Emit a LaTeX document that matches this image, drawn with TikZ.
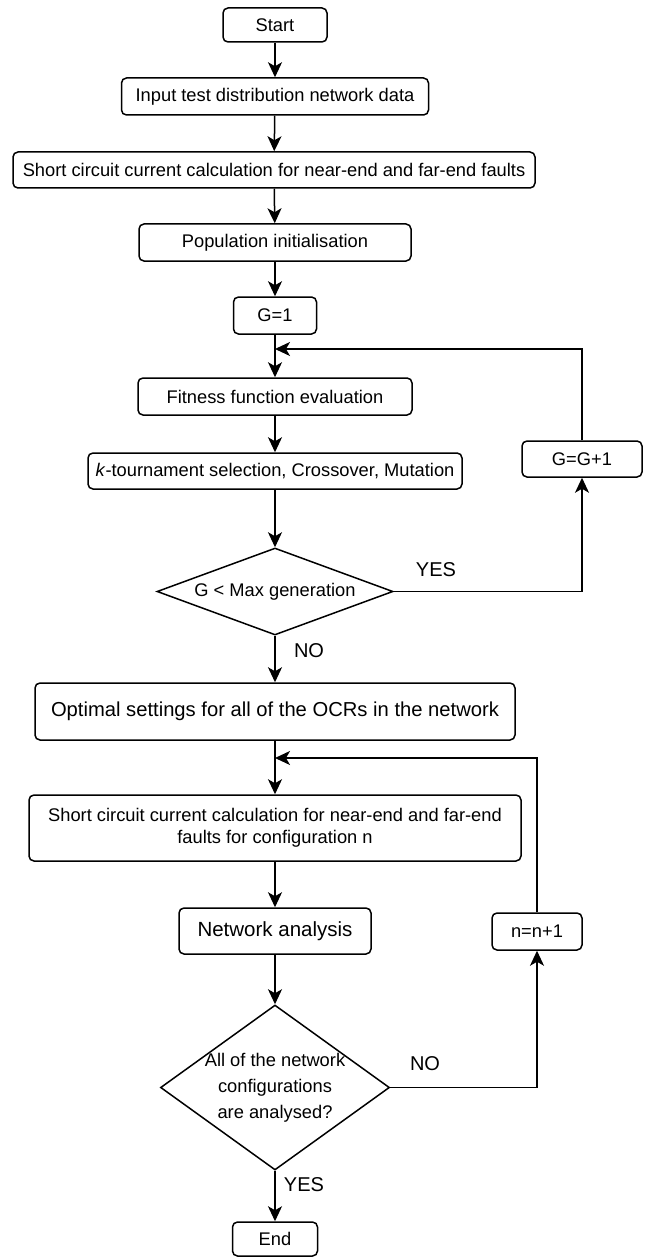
\documentclass[tikz,border=0pt]{standalone}
\usepackage{fontspec}
\setmainfont{Liberation Sans}
\usetikzlibrary{shapes.geometric,arrows.meta}

\begin{document}
\begin{tikzpicture}[x=1pt, y=-1pt, line width=1.5pt,
    >={Stealth[length=15pt,width=14pt,inset=4pt]},
    box/.style={draw, rounded corners=5pt, align=center, inner sep=2pt,
      font=\fontsize{18.3}{22}\selectfont},
    decision/.style={draw, diamond, inner sep=0pt, align=center,
      font=\fontsize{18.3}{26}\selectfont},
    answer/.style={font=\fontsize{20}{24}\selectfont}]

    \useasboundingbox (0, 0) rectangle (645, 1257);

    \node[box, minimum width=104pt, minimum height=34pt] (start) at (275, 25) {Start};
    \node[box, minimum width=307pt, minimum height=37pt] (input) at (275, 96.5) {Input test distribution network data};
    \node[box, minimum width=522pt, minimum height=36pt] (sc) at (274, 170) {Short circuit current calculation for near-end and far-end faults};
    \node[box, minimum width=272pt, minimum height=37pt] (pop) at (275, 242.5) {Population initialisation};
    \node[box, minimum width=83pt, minimum height=37pt] (g1) at (275, 315.5) {G=1};
    \node[box, minimum width=274pt, minimum height=37pt] (fit) at (275, 396.5) {Fitness function evaluation};
    \node[box, minimum width=374pt, minimum height=36pt] (sel) at (275, 471) {\textit{k}-tournament selection, Crossover, Mutation};
    \node[decision, aspect=2.7, minimum width=236pt, minimum height=87pt] (dec1) at (275, 591.5) {G < Max generation};
    \node[box, minimum width=480pt, minimum height=57pt, font=\fontsize{20.2}{24}\selectfont] (opt) at (275, 711.5) {Optimal settings for all of the OCRs in the network};
    \node[box, minimum width=492pt, minimum height=66pt] (sc2) at (275, 828) {Short circuit current calculation for near-end and far-end\\faults for configuration n};
    \node[box, minimum width=192pt, minimum height=46pt, font=\fontsize{20.5}{24}\selectfont] (na) at (275, 931) {Network analysis};
    \node[decision, minimum width=229pt, minimum height=165pt] (dec2) at (275, 1087.5) {};
    \node[align=center, font=\fontsize{18.3}{26}\selectfont] (dec2txt) at (dec2) {All of the network\\configurations\\are analysed?};
    \node[box, minimum width=85pt, minimum height=34pt] (end) at (275, 1239) {End};

    \node[box, minimum width=120pt, minimum height=36pt] (gg1) at (582, 459) {G=G+1};
    \node[box, minimum width=90pt, minimum height=37pt] (nn1) at (537, 931.5) {n=n+1};

    \node[answer] (yes1) at (436, 570) {YES};
    \node[answer] (no1) at (309, 651) {NO};
    \node[answer] (no2) at (425, 1064) {NO};
    \node[answer] (yes2) at (304, 1185) {YES};

    \coordinate (j1) at (275, 349);
    \coordinate (j2) at (275, 758);

    \path [->] (start) edge (input);
    \path [->] (input) edge (sc);
    \path [->] (sc) edge (pop);
    \path [->] (pop) edge (g1);
    \path [->] (g1) edge (fit);
    \path [->] (fit) edge (sel);
    \path [->] (sel) edge (dec1);
    \path [->] (dec1) edge (opt);

    \path [->] (opt) edge (sc2);
    \path [->] (sc2) edge (na);
    \path [->] (na) edge (dec2);
    \path [->] (dec2) edge (end);

    \draw [->] (dec1.east) -| (gg1.south);
    \draw [->] (gg1.north) |- (j1);

    \draw [->] (dec2.east) -| (nn1.south);
    \draw [->] (nn1.north) |- (j2);

  \end{tikzpicture}
\end{document}
